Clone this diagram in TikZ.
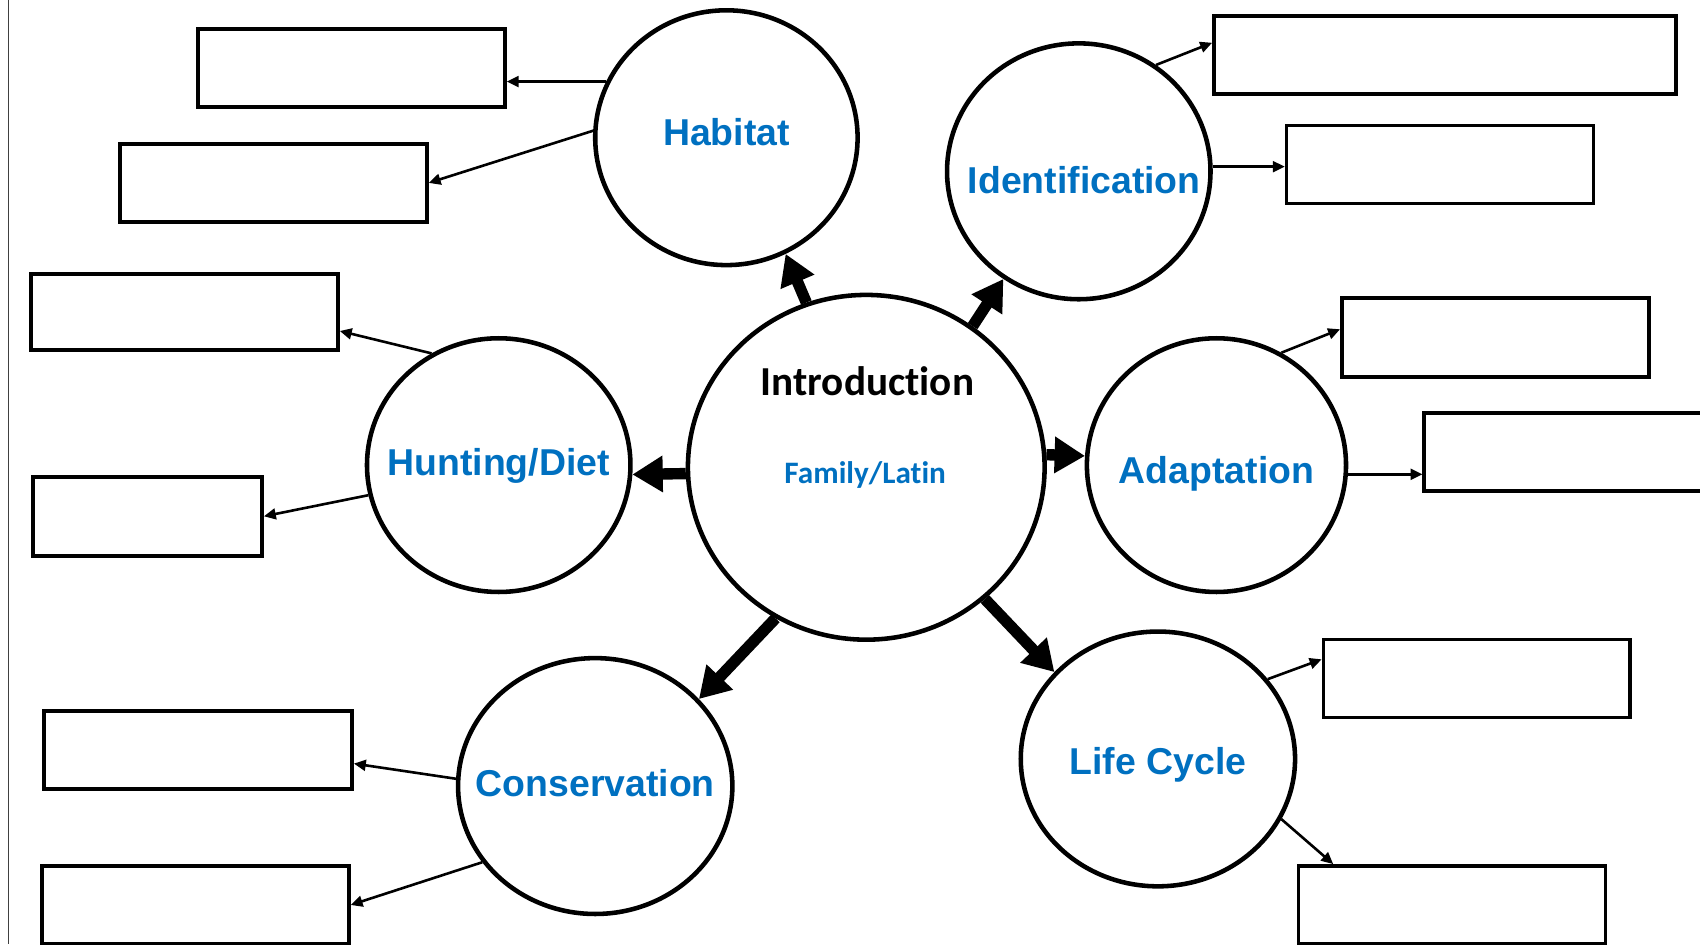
\documentclass[tikz,border=0pt]{standalone}
\usepackage{fontspec}
\setmainfont{Liberation Sans}
\newfontfamily\calibri[Ligatures=NoCommon]{Carlito}
\usetikzlibrary{shapes.geometric,arrows.meta}
\definecolor{topicblue}{RGB}{0,112,192}
% text of zero size, so the ellipse keeps its own size; #1 moves it down
\newcommand{\topictext}[2][0pt]{\makebox[0pt]{\raisebox{\dimexpr-12.3pt-#1\relax}[0pt][0pt]{#2}}}

\begin{document}
\begin{tikzpicture}[x=1pt,y=-1pt,
  topic/.style={ellipse,draw,line width=4.2pt,inner sep=0pt,text=topicblue,
    font=\fontsize{34.5}{40}\selectfont\bfseries},
  blank/.style={rectangle,draw,line width=3.4pt,anchor=north west,inner sep=0pt,
    minimum width=283pt,minimum height=72pt},
  spoke/.style={line width=10.5pt,-{Triangle[length=28pt,width=32pt]}},
  feed/.style={line width=2.4pt,-{Triangle[length=11pt,width=10pt]}}]
\clip (0,0) rectangle (1568,871);
\draw[line width=1.5pt,black!75] (8,0) -- (8,871);
% topics
\node[topic,minimum width=329pt,minimum height=318pt] at (799,431) (intro) {};
\node[topic,minimum width=242pt,minimum height=235pt] at (670,127) (hab) {\topictext[-5pt]{Habitat}};
\node[topic,minimum width=243pt,minimum height=236pt] at (995,158) (ident) {\topictext[8pt]{\hspace{10pt}Identification}};
\node[topic,minimum width=239pt,minimum height=234pt] at (1122,429) (adapt) {\topictext[5pt]{Adaptation}};
\node[topic,minimum width=243pt,minimum height=234pt] at (460,429) (hunt) {\topictext[-3pt]{Hunting/Diet}};
\node[topic,minimum width=253pt,minimum height=236pt] at (549,725) (cons) {\topictext[-3pt]{Conservation}};
\node[topic,minimum width=253pt,minimum height=235pt] at (1068,700) (life) {\topictext[2pt]{Life Cycle}};
\node[font=\calibri\fontsize{38}{44}\selectfont\bfseries] at (800,352) (introtitle) {Introduction};
\node[font=\calibri\fontsize{28.8}{34}\selectfont\bfseries,text=topicblue] at (798,438) (introsub) {Family/Latin};
% empty boxes
\node[blank] at (181,25) (hab1) {};
\node[blank] at (109,131) (hab2) {};
\node[blank,minimum height=70pt] at (27,251) (hu1) {};
\node[blank,minimum width=211pt,minimum height=73pt] at (29,438) (hu2) {};
\node[blank,minimum width=284pt] at (39,654) (co1) {};
\node[blank] at (37,797) (co2) {};
\node[blank,minimum width=426pt] at (1118,13) (id1) {};
\node[blank] at (1185,114) (id2) {};
\node[blank,minimum height=73pt] at (1236,273) (ad1) {};
\node[blank,minimum width=300pt] at (1312,379) (ad2) {};
\node[blank] at (1219,588) (li1) {};
\node[blank] at (1196,797) (li2) {};
% spokes from the centre
\draw[spoke] (intro.110) -- (hab.-63);
\draw[spoke] (intro.53) -- (ident.-125);
\draw[spoke] (intro.4) -- (adapt.176);
\draw[spoke] (intro.182) -- (hunt.-4);
\draw[spoke] (intro.-121) -- (cons.40);
\draw[spoke] (intro.-48) -- (life.140);
% to the boxes
\draw[feed] (hab.155) -- (hab.155 -| hab1.east);
\draw[feed] (hab.177) -- (hab2.east);
\draw[feed] (ident.54) -- (id1.177);
\draw[feed] (ident.2) -- (ident.2 -| id2.west);
\draw[feed] (hunt.121) -- (hu1.-7);
\draw[feed] (hunt.193) -- (hu2.east);
\draw[feed] (adapt.60) -- (ad1.177);
\draw[feed] (adapt.-4) -- (adapt.-4 -| ad2.west);
\draw[feed] (cons.177) -- (co1.-5);
\draw[feed] (cons.214) -- (co2.east);
\draw[feed] (life.36) -- (li1.173);
\draw[feed] (life.-26) -- (li2.161);
\end{tikzpicture}
\end{document}
